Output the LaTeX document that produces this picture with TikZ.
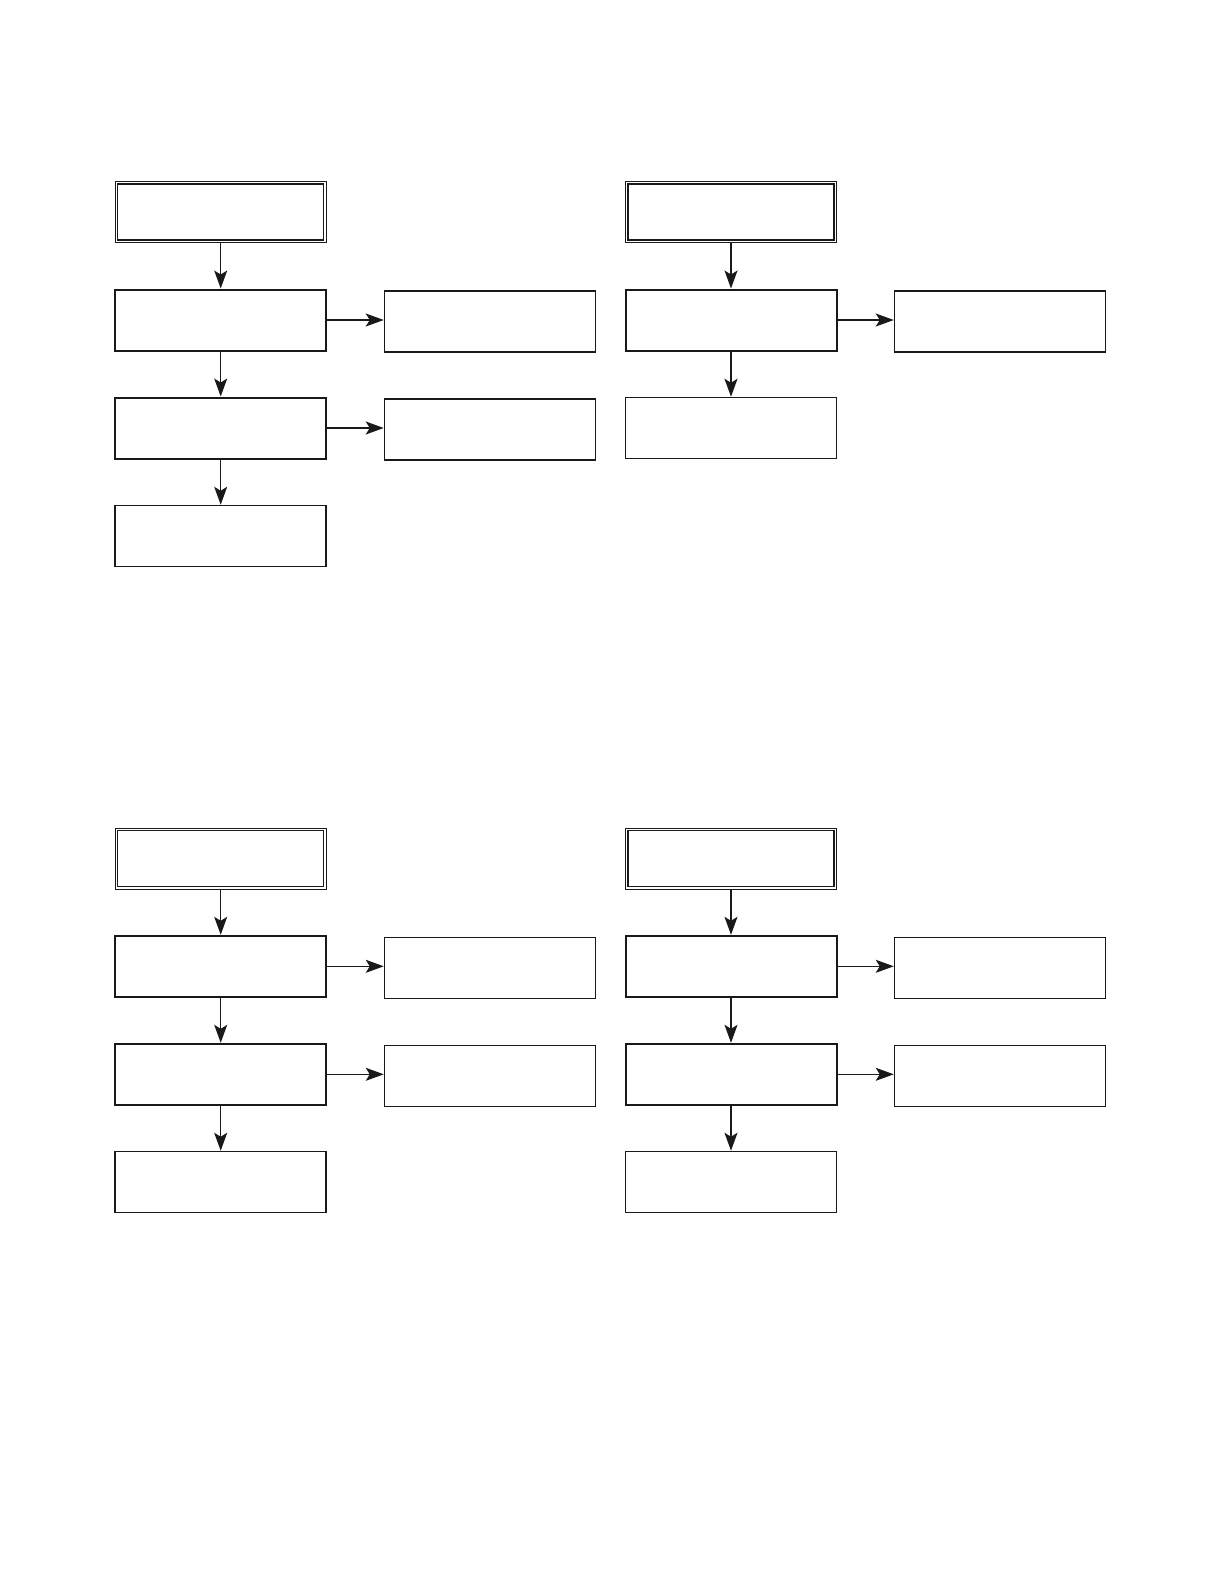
\documentclass[tikz,border=0pt]{standalone}
\usetikzlibrary{arrows.meta}
\begin{document}
\begin{tikzpicture}[x=1pt,y=-1pt,
  boxbase/.style={rectangle,minimum width=211pt,minimum height=61pt,inner sep=0pt,draw=black!90},
  headbox/.style={boxbase,line width=1.4pt},
  innerline/.style={line width=1.1pt,draw=black!90},
  mainbox/.style={boxbase,line width=2.0pt},
  plainbox/.style={boxbase,line width=1.5pt},
  arr/.style={line width=1.2pt,draw=black!90,-{Stealth[length=18pt,width=13pt,inset=4pt,fill=black!90]}}]
\useasboundingbox (0,0) rectangle (1221,1589);
% ---------- top left ----------
\node[headbox]  (tl1) at (220.7,212) {};
\draw[innerline] ([shift={(3.2,3.2)}]tl1.north west) rectangle ([shift={(-3.2,-3.2)}]tl1.south east);
\node[mainbox]  (tl2) at (220.7,320) {};
\node[mainbox]  (tl3) at (220.7,428) {};
\node[plainbox] (tl4) at (220.7,536) {};
\node[plainbox] (tl2s) at (490,321.5) {};
\node[plainbox] (tl3s) at (490,429.5) {};
\draw[arr] (tl1.south) -- (tl2.north);
\draw[arr] (tl2.south) -- (tl3.north);
\draw[arr] (tl3.south) -- (tl4.north);
\draw[arr] (tl2.east) -- (tl2s.west |- tl2.east);
\draw[arr] (tl3.east) -- (tl3s.west |- tl3.east);
% ---------- top right ----------
\node[headbox]  (tr1) at (731,212) {};
\draw[innerline] ([shift={(3.2,3.2)}]tr1.north west) rectangle ([shift={(-3.2,-3.2)}]tr1.south east);
\node[mainbox]  (tr2) at (731,320) {};
\node[plainbox] (tr3) at (731,428) {};
\node[plainbox] (tr2s) at (1000,321.5) {};
\draw[arr] (tr1.south) -- (tr2.north);
\draw[arr] (tr2.south) -- (tr3.north);
\draw[arr] (tr2.east) -- (tr2s.west |- tr2.east);
% ---------- bottom left ----------
\node[headbox]  (bl1) at (220.7,858.8) {};
\draw[innerline] ([shift={(3.2,3.2)}]bl1.north west) rectangle ([shift={(-3.2,-3.2)}]bl1.south east);
\node[mainbox]  (bl2) at (220.7,966.3) {};
\node[mainbox]  (bl3) at (220.7,1074.3) {};
\node[plainbox] (bl4) at (220.7,1182) {};
\node[plainbox] (bl2s) at (490,968) {};
\node[plainbox] (bl3s) at (490,1076) {};
\draw[arr] (bl1.south) -- (bl2.north);
\draw[arr] (bl2.south) -- (bl3.north);
\draw[arr] (bl3.south) -- (bl4.north);
\draw[arr] (bl2.east) -- (bl2s.west |- bl2.east);
\draw[arr] (bl3.east) -- (bl3s.west |- bl3.east);
% ---------- bottom right ----------
\node[headbox]  (br1) at (731,858.8) {};
\draw[innerline] ([shift={(3.2,3.2)}]br1.north west) rectangle ([shift={(-3.2,-3.2)}]br1.south east);
\node[mainbox]  (br2) at (731,966.3) {};
\node[mainbox]  (br3) at (731,1074.3) {};
\node[plainbox] (br4) at (731,1182) {};
\node[plainbox] (br2s) at (1000,968) {};
\node[plainbox] (br3s) at (1000,1076) {};
\draw[arr] (br1.south) -- (br2.north);
\draw[arr] (br2.south) -- (br3.north);
\draw[arr] (br3.south) -- (br4.north);
\draw[arr] (br2.east) -- (br2s.west |- br2.east);
\draw[arr] (br3.east) -- (br3s.west |- br3.east);
\end{tikzpicture}
\end{document}
